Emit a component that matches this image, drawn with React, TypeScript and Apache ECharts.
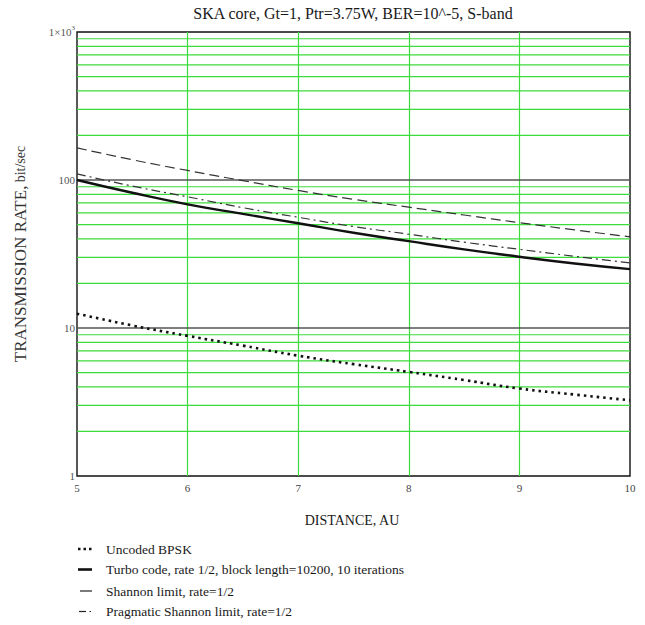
import React, { useEffect, useRef } from "react";
import * as echarts from "echarts";

// Distance samples (AU) and transmission rates (bit/sec)
const distances = [5, 5.5, 6, 6.5, 7, 7.5, 8, 8.5, 9, 9.5, 10];
const uncodedBpsk = [12.5, 10.4, 8.85, 7.6, 6.5, 5.7, 5.05, 4.45, 3.9, 3.55, 3.25];
const turboCode = [100, 82, 68.5, 59, 51, 44, 38.6, 34, 30.3, 27.3, 25];
const shannonLimit = [165, 137, 116, 99, 85, 74, 65.5, 58, 51.5, 46, 41.3];
const pragmaticShannon = [110, 91, 77, 65, 56, 48.5, 43, 38, 34, 30.5, 27.5];

// Log-scale grid: decade lines and intermediate values within each decade
const decadeLines = [10, 100];
const decadeLabels = [1, 10, 100, 1000];
const minorGridValues = [2, 3, 4, 5, 6, 7, 8, 9, 20, 30, 40, 50, 60, 70, 80, 90, 200, 300, 400, 500, 600, 700, 800, 900];

const legendLabels = [
  "Uncoded BPSK",
  "Turbo code, rate 1/2, block length=10200, 10 iterations",
  "Shannon limit, rate=1/2",
  "Pragmatic Shannon limit, rate=1/2",
];

const titleText = "SKA core, Gt=1, Ptr=3.75W, BER=10^-5, S-band";
const FONT = "'Liberation Serif', 'Times New Roman', serif";
const X_MIN = 5;
const X_MAX = 10;
const GRID_GREEN = "#3ddc3d";

const pairs = (ys: number[]) => distances.map((x, i) => [x, ys[i]]);

export default function App() {
  const ref = useRef<HTMLDivElement>(null);

  useEffect(() => {
    if (!ref.current) return;
    const chart = echarts.init(ref.current, undefined, { renderer: "svg" });

    const legendRowsY = [549, 569.5, 591, 611.5];
    const legendGraphics: any[] = [];
    // Uncoded BPSK: dotted
    legendGraphics.push({
      type: "line",
      shape: { x1: 78, y1: legendRowsY[0], x2: 93, y2: legendRowsY[0] },
      style: { stroke: "#111", lineWidth: 2.5, lineDash: [2.5, 3] },
    });
    // Turbo: thick solid
    legendGraphics.push({
      type: "line",
      shape: { x1: 78, y1: legendRowsY[1], x2: 92, y2: legendRowsY[1] },
      style: { stroke: "#111", lineWidth: 2.6 },
    });
    // Shannon: thin dash
    legendGraphics.push({
      type: "line",
      shape: { x1: 80, y1: legendRowsY[2], x2: 92, y2: legendRowsY[2] },
      style: { stroke: "#222", lineWidth: 1.2 },
    });
    // Pragmatic: dash-dot
    legendGraphics.push({
      type: "line",
      shape: { x1: 79, y1: legendRowsY[3], x2: 86, y2: legendRowsY[3] },
      style: { stroke: "#222", lineWidth: 1.2 },
    });
    legendGraphics.push({
      type: "line",
      shape: { x1: 89.5, y1: legendRowsY[3], x2: 91, y2: legendRowsY[3] },
      style: { stroke: "#222", lineWidth: 1.2 },
    });
    legendLabels.forEach((t, i) => {
      legendGraphics.push({
        type: "text",
        x: 106,
        y: legendRowsY[i],
        style: {
          text: t,
          font: `13.5px ${FONT}`,
          fill: "#1a1a1a",
          align: "left",
          verticalAlign: "middle",
        },
      });
    });

    const lineSeries = (name: string, ys: number[], lineStyle: any) => ({
      name,
      type: "line",
      data: pairs(ys),
      symbol: "none",
      smooth: true,
      lineStyle,
      z: 5,
      silent: true,
    });

    // One horizontal reference line per grid value, spanning the x range
    const hLine = (v: number, color: string, width: number, z: number) => ({
      name: `grid-${v}`,
      type: "line",
      data: [[X_MIN, v], [X_MAX, v]],
      symbol: "none",
      silent: true,
      z,
      itemStyle: { color },
      lineStyle: { color, width, type: "solid", opacity: 1 },
    });

    const isDecade = (v: number) => decadeLabels.some((d) => Math.abs(d - v) < 1e-6 * d);

    chart.setOption({
      animation: false,
      backgroundColor: "#ffffff",
      grid: {
        left: 77,
        right: 15,
        top: 32,
        bottom: 149,
        show: true,
        borderColor: "#111",
        borderWidth: 1.4,
        backgroundColor: "transparent",
      },
      xAxis: {
        type: "value",
        min: X_MIN,
        max: X_MAX,
        interval: 1,
        axisLine: { show: false },
        axisTick: { show: false },
        axisLabel: {
          color: "#444",
          fontFamily: FONT,
          fontSize: 11,
          margin: 6,
        },
        splitLine: {
          show: true,
          showMinLine: false,
          showMaxLine: false,
          lineStyle: { color: GRID_GREEN, width: 1.2 },
        },
      },
      yAxis: {
        type: "log",
        logBase: 10,
        min: 1,
        max: 1000,
        axisLine: { show: false },
        axisTick: { show: false },
        axisLabel: {
          color: "#555",
          fontFamily: FONT,
          fontSize: 11,
          margin: 2,
          formatter: (v: number) => {
            if (!isDecade(v)) return "";
            return v >= 1000 ? "1×10{sup|3}" : String(Math.round(v));
          },
          rich: {
            sup: { fontSize: 7, fontFamily: FONT, color: "#555", verticalAlign: "top", padding: [0, 0, 8, 0] },
          },
        },
        splitLine: { show: false },
      },
      series: [
        ...minorGridValues.map((v) => hLine(v, GRID_GREEN, 1.2, 1)),
        ...decadeLines.map((v) => hLine(v, "#555", 1.5, 2)),
        lineSeries(legendLabels[0], uncodedBpsk, { color: "#111", width: 2.6, type: [2.5, 4] }),
        lineSeries(legendLabels[1], turboCode, { color: "#111", width: 2.4, type: "solid" }),
        lineSeries(legendLabels[2], shannonLimit, { color: "#333", width: 1.2, type: [10, 5] }),
        lineSeries(legendLabels[3], pragmaticShannon, { color: "#333", width: 1.2, type: [9, 4, 2, 4] }),
      ],
      graphic: [
        {
          type: "text",
          x: 353,
          y: 13,
          style: {
            text: titleText,
            font: `16px ${FONT}`,
            fill: "#1a1a1a",
            align: "center",
            verticalAlign: "middle",
          },
        },
        {
          type: "text",
          x: 352,
          y: 520,
          style: {
            text: "DISTANCE, AU",
            font: `14px ${FONT}`,
            fill: "#1a1a1a",
            align: "center",
            verticalAlign: "middle",
          },
        },
        {
          type: "text",
          x: 20,
          y: 254,
          rotation: Math.PI / 2,
          style: {
            text: "{a|TRANSMISSION RATE,} {b|bit/sec}",
            align: "center",
            verticalAlign: "middle",
            rich: {
              a: { fontFamily: FONT, fontSize: 17, fill: "#333", color: "#333" },
              b: { fontFamily: FONT, fontSize: 14, fill: "#333", color: "#333" },
            },
          },
        },
        ...legendGraphics,
      ],
    });

    return () => chart.dispose();
  }, []);

  return (
    <div
      ref={ref}
      style={{ position: "absolute", left: 0, top: 0, width: 645, height: 625, background: "#fff" }}
    />
  );
}
